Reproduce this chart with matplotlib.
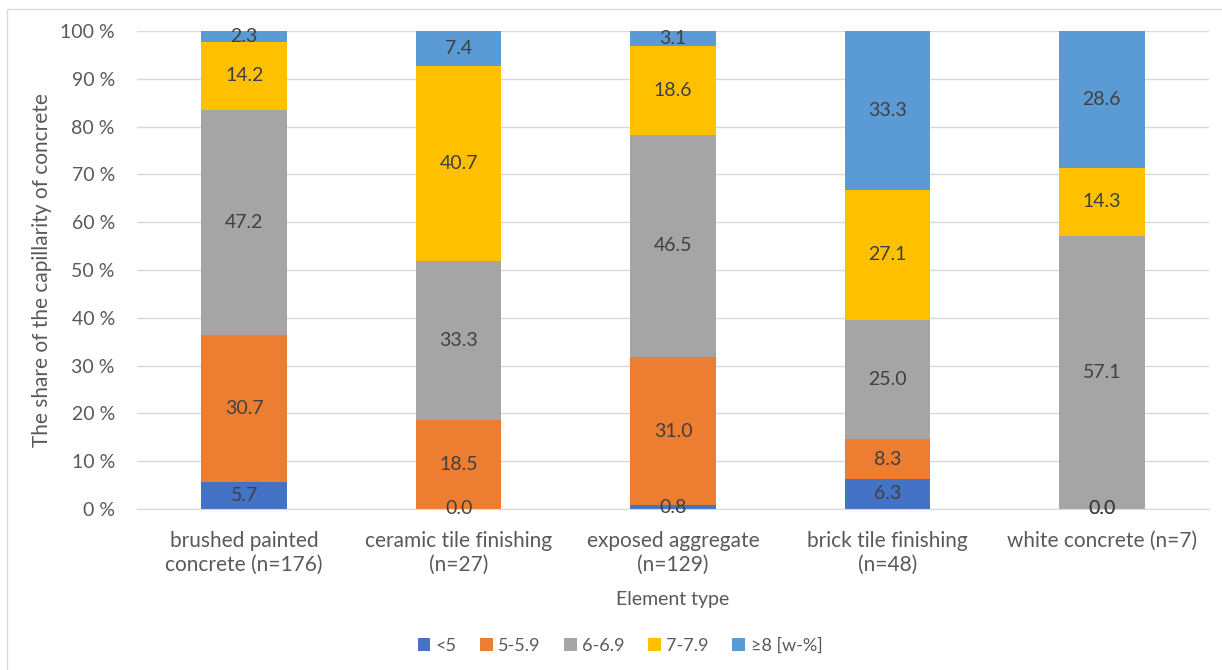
import matplotlib.pyplot as plt
from matplotlib.patches import Rectangle
import numpy as np

plt.rcParams['font.family'] = ['Lato', 'DejaVu Sans']

categories = [
    'brushed painted\nconcrete (n=176)',
    'ceramic tile finishing\n(n=27)',
    'exposed aggregate\n(n=129)',
    'brick tile finishing\n(n=48)',
    'white concrete (n=7)',
]
series_names = ['<5', '5-5.9', '6-6.9', '7-7.9', '≥8 [w-%]']
lt5 = [5.7, 0.0, 0.8, 6.3, 0.0]
r5_59 = [30.7, 18.5, 31.0, 8.3, 0.0]
r6_69 = [47.2, 33.3, 46.5, 25.0, 57.1]
r7_79 = [14.2, 40.7, 18.6, 27.1, 14.3]
ge8 = [2.3, 7.4, 3.1, 33.3, 28.6]
colors = ['#4472C4', '#ED7D31', '#A5A5A5', '#FFC000', '#5B9BD5']

values = np.array([lt5, r5_59, r6_69, r7_79, ge8])
# 100 % stacking: each column scaled to its own total
shares = values / values.sum(axis=0) * 100

fig = plt.figure(figsize=(12.22, 6.70), dpi=100)
ax = fig.add_axes([0.1121, 0.2403, 0.8773, 0.7134])

x = np.arange(len(categories))
bottom = np.zeros(len(categories))
for name, col, share, raw in zip(series_names, colors, shares, values):
    ax.bar(x, share, 0.4, bottom=bottom, color=col, label=name, zorder=2)
    for xi, b, h, v in zip(x, bottom, share, raw):
        ax.text(xi, b + h / 2, f'{v:.1f}', ha='center', va='center',
                fontsize=14, color='#404040', zorder=3)
    bottom += share

ax.set_xlim(-0.5, len(categories) - 0.5)
ax.set_ylim(0, 100)
ax.set_yticks(np.arange(0, 101, 10))
ax.set_yticklabels([f'{t} %' for t in range(0, 101, 10)])
ax.set_xticks(x)
ax.set_xticklabels(categories, linespacing=1.25)
ax.tick_params(length=0, colors='#595959')
ax.tick_params(axis='x', labelsize=15, pad=15.5)
ax.tick_params(axis='y', labelsize=14, pad=16)
ax.grid(axis='y', color='#D9D9D9', linewidth=1, zorder=0)
for side in ['top', 'right', 'left']:
    ax.spines[side].set_visible(False)
ax.spines['bottom'].set_color('#D9D9D9')

ax.set_xlabel('Element type', fontsize=14, color='#595959', labelpad=12)
ax.set_ylabel('The share of the capillarity of concrete', fontsize=15,
              color='#595959', labelpad=6)

fig.legend(loc='center', bbox_to_anchor=(0.5074, 0.036), ncol=5, frameon=False,
           fontsize=13, labelcolor='#595959', handlelength=0.7,
           handleheight=0.7, handletextpad=0.3, columnspacing=1.3)

# light frame around the chart area
fig.patches.append(Rectangle((7 / 1222, -0.1), 1.2, 1 - 9 / 670 + 0.1,
                             transform=fig.transFigure, fill=False,
                             edgecolor='#D9D9D9', linewidth=1))

fig.savefig('out.png', dpi=100)
